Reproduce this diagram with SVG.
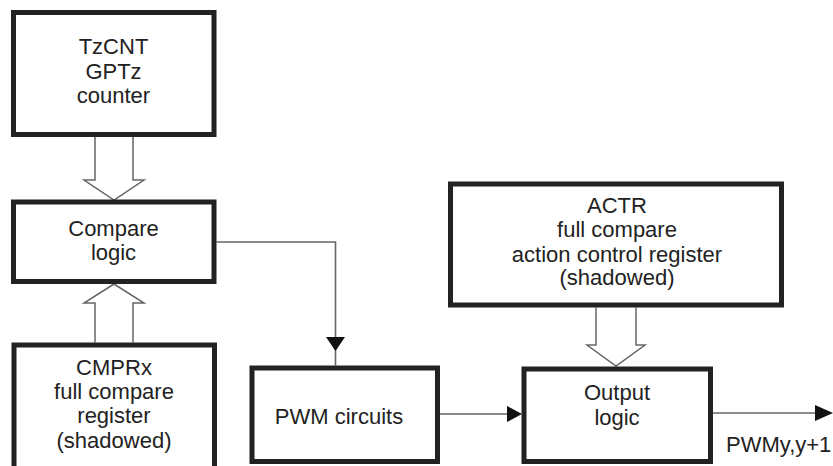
<svg xmlns="http://www.w3.org/2000/svg" width="833" height="466" viewBox="0 0 833 466">
<style>
.box{fill:#fff;stroke:#222;stroke-width:5}
.t{font-family:"Liberation Sans",Arial,sans-serif;font-size:22px;fill:#222;text-anchor:middle}
.hollow{fill:#fff;stroke:#666;stroke-width:1.5;stroke-linejoin:miter}
.wire{fill:none;stroke:#666;stroke-width:1.6}
.head{fill:#111;stroke:none}
</style>
<rect width="833" height="466" fill="#fff"/>
<g id="connectors">
<polyline class="hollow" points="95,137 95,180 84,180 114,200 144,180 133,180 133,137"/>
<polyline class="hollow" points="95,342.5 95,303 84,303 114,284 144,303 133,303 133,342.5"/>
<polyline class="hollow" points="596,307.5 596,345 587,345 616,366 645,345 636,345 636,307.5"/>
<path class="wire" d="M216.5,242 H335.5 V365.5"/>
<polygon class="head" points="326,337 345,337 335.5,351"/>
<line class="wire" x1="440" y1="414" x2="508" y2="414"/>
<polygon class="head" points="507,406 507,422 522,414"/>
<line class="wire" x1="713" y1="413" x2="816" y2="413"/>
<polygon class="head" points="815,405 815,421 833,413"/>
<text class="t" x="726" y="452" style="text-anchor:start">PWMy,y+1</text>
</g>
<g id="tzcnt">
<rect class="box" x="13.5" y="12.5" width="200.5" height="122"/>
<text class="t" x="113.5" y="54">TzCNT</text>
<text class="t" x="113.5" y="79">GPTz</text>
<text class="t" x="113.5" y="103">counter</text>
</g>
<g id="compare">
<rect class="box" x="13.5" y="202" width="200.5" height="79.5"/>
<text class="t" x="113.5" y="236">Compare</text>
<text class="t" x="113.5" y="260">logic</text>
</g>
<g id="cmprx">
<rect class="box" x="14" y="345" width="200.5" height="130"/>
<text class="t" x="114" y="375">CMPRx</text>
<text class="t" x="114" y="399">full compare</text>
<text class="t" x="114" y="423">register</text>
<text class="t" x="114" y="448">(shadowed)</text>
</g>
<g id="pwm">
<rect class="box" x="252" y="368" width="185.5" height="93.5"/>
<text class="t" x="339" y="424">PWM circuits</text>
</g>
<g id="actr">
<rect class="box" x="450.5" y="184" width="331" height="121"/>
<text class="t" x="617" y="213">ACTR</text>
<text class="t" x="617" y="237">full compare</text>
<text class="t" x="617" y="262">action control register</text>
<text class="t" x="617" y="285">(shadowed)</text>
</g>
<g id="output">
<rect class="box" x="524" y="369" width="186.5" height="92.5"/>
<text class="t" x="617" y="400">Output</text>
<text class="t" x="617" y="425">logic</text>
</g>
</svg>
